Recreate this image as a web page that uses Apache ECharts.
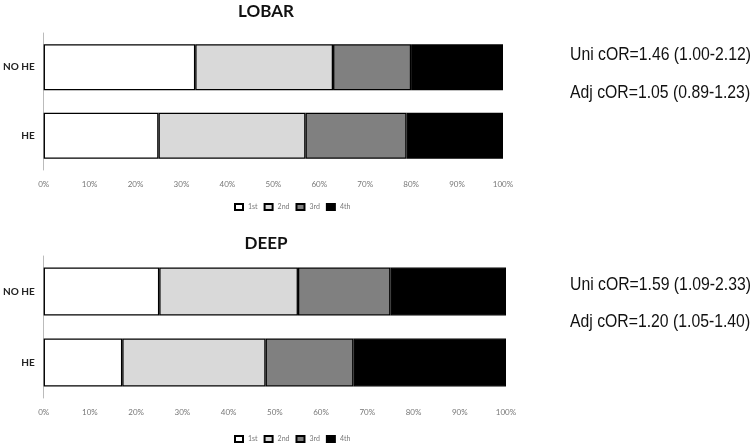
<!DOCTYPE html>
<html lang="en">
<head>
    <meta charset="UTF-8">
    <title>LOBAR / DEEP</title>
    <script type="text/javascript" src="https://cdn.jsdelivr.net/npm/echarts@6/dist/echarts.min.js"></script>
    <style>
        html, body { margin: 0; padding: 0; background: #fff; }
    </style>
</head>
<body>
<div id="chart" style="width: 755px;height:443px;"></div>
<script>
    var groups = ['NO HE', 'HE'];
    var quartiles = ['1st', '2nd', '3rd', '4th'];
    var pctTicks = [0, 10, 20, 30, 40, 50, 60, 70, 80, 90, 100];

    // LOBAR, order: NO HE, HE
    var lobar1st = [33, 25];
    var lobar2nd = [30, 32];
    var lobar3rd = [17, 22];
    var lobar4th = [20, 21];

    // DEEP
    var deep1st = [25, 17];
    var deep2nd = [30, 31];
    var deep3rd = [20, 19];
    var deep4th = [25, 33];

    var lobarNotes = ['Uni cOR=1.46 (1.00-2.12)', 'Adj cOR=1.05 (0.89-1.23)'];
    var deepNotes = ['Uni cOR=1.59 (1.09-2.33)', 'Adj cOR=1.20 (1.05-1.40)'];

    var fills = ['#ffffff', '#d9d9d9', '#808080', '#000000'];
    var font = 'Lato, "Open Sans", sans-serif';

    function xAx(idx) {
        return {
            type: 'value', gridIndex: idx, min: pctTicks[0], max: pctTicks[pctTicks.length - 1], interval: 10,
            axisLine: {show: false}, axisTick: {show: false}, splitLine: {show: false},
            axisLabel: {formatter: '{value}%', color: '#777', fontSize: 8, fontFamily: font, margin: 10}
        };
    }
    function yAx(idx) {
        return {
            type: 'category', gridIndex: idx, data: groups, inverse: true,
            axisLine: {show: true, lineStyle: {color: '#bbb', width: 1}},
            axisTick: {show: false},
            axisLabel: {color: '#222', fontSize: 10, fontWeight: 'bold', fontFamily: font, margin: 9}
        };
    }
    function bars(idx, stack, arrs, w) {
        return arrs.map(function (d, i) {
            return {
                name: quartiles[i], type: 'bar', stack: stack, xAxisIndex: idx, yAxisIndex: idx,
                barWidth: w, data: d,
                itemStyle: {color: fills[i], borderColor: '#000', borderWidth: 1.3},
                emphasis: {disabled: true}
            };
        });
    }
    function legend(top) {
        return {
            data: quartiles, top: top, left: 229, itemWidth: 8, itemHeight: 6, itemGap: 6,
            icon: 'rect', textStyle: {fontSize: 7, color: '#777', fontFamily: font},
            selectedMode: false
        };
    }
    // right-hand odds-ratio notes, narrowed to match the condensed font of the original
    function note(lines, c1, c2) {
        var style = {fontFamily: '"Liberation Sans", Arial, sans-serif', fontSize: 19, fill: '#111',
            textAlign: 'left', verticalAlign: 'middle'};
        return [
            {type: 'text', x: 570, y: c1, scaleX: 0.83, style: Object.assign({text: lines[0]}, style)},
            {type: 'text', x: 570, y: c2, scaleX: 0.83, style: Object.assign({text: lines[1]}, style)}
        ];
    }

    var option = {
        animation: false,
        title: [
            {text: 'LOBAR', left: 261, top: -2, textAlign: 'center',
                textStyle: {fontSize: 17, fontWeight: 'bold', fontFamily: font, color: '#111'}},
            {text: 'DEEP', left: 261, top: 230, textAlign: 'center',
                textStyle: {fontSize: 17, fontWeight: 'bold', fontFamily: font, color: '#111'}}
        ],
        legend: [legend(198), legend(430)],
        grid: [
            {left: 42, right: 252, top: 33, height: 137},
            {left: 41, right: 249, top: 256, height: 142}
        ],
        xAxis: [xAx(0), xAx(1)],
        yAxis: [yAx(0), yAx(1)],
        series: bars(0, 'lobar', [lobar1st, lobar2nd, lobar3rd, lobar4th], 46)
            .concat(bars(1, 'deep', [deep1st, deep2nd, deep3rd, deep4th], 48)),
        graphic: note(lobarNotes, 55, 93).concat(note(deepNotes, 285, 322))
    };

    var myChart = echarts.init(document.getElementById('chart'));
    myChart.setOption(option);
</script>
</body>
</html>
